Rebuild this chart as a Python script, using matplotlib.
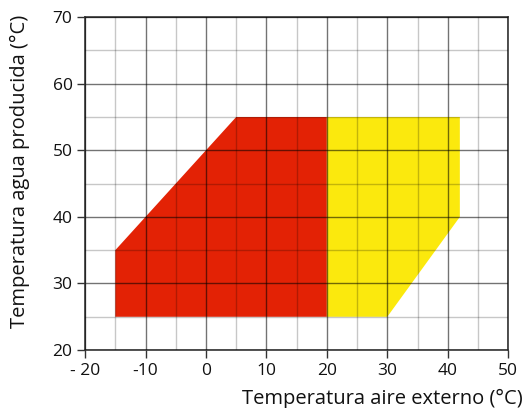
import matplotlib
matplotlib.use("Agg")
import matplotlib.pyplot as plt
from matplotlib.patches import Polygon

plt.rcParams['font.family'] = ['Open Sans', 'DejaVu Sans']

# Data: operating envelopes (air temp °C, water temp °C)
red_x = [-15, -15, 5, 20, 20]
red_y = [25, 35, 55, 55, 25]
yellow_x = [20, 20, 42, 42, 30]
yellow_y = [25, 55, 55, 40, 25]
x_ticks = [-20, -10, 0, 10, 20, 30, 40, 50]
x_labels = ['- 20', '-10', '0', '10', '20', '30', '40', '50']
y_ticks = [20, 30, 40, 50, 60, 70]

fig = plt.figure(figsize=(5.25, 4.08), dpi=100)
ax = fig.add_axes([0.162, 0.142, 0.806, 0.816])

ax.add_patch(Polygon(list(zip(red_x, red_y)), closed=True, facecolor='#E32205', edgecolor='none', zorder=1))
ax.add_patch(Polygon(list(zip(yellow_x, yellow_y)), closed=True, facecolor='#FBE90D', edgecolor='none', zorder=1))

ax.set_xlim(-20, 50)
ax.set_ylim(20, 70)
ax.set_xticks(x_ticks)
ax.set_xticklabels(x_labels)
ax.set_yticks(y_ticks)
ax.set_xticks(range(-15, 50, 10), minor=True)
ax.set_yticks(range(25, 70, 10), minor=True)

ax.grid(which='major', color='#000000', alpha=0.55, linewidth=1.0, zorder=2)
ax.grid(which='minor', color='#000000', alpha=0.22, linewidth=1.0, zorder=2)
ax.set_axisbelow(False)
ax.tick_params(which='minor', length=0)
ax.tick_params(which='major', direction='out', length=6, width=1, color='#333333',
               labelsize=12.5, pad=3, labelcolor='#111111')

for s in ax.spines.values():
    s.set_color('#333333')
    s.set_linewidth(1.2)

ax.set_xlabel('Temperatura aire externo (°C)', fontsize=14.5, ha='right', va='center', color='#111111')
ax.xaxis.set_label_coords(1.035, -0.146)
ax.set_ylabel('Temperatura agua producida (°C)', fontsize=14.5, ha='center', va='center', color='#111111')
ax.yaxis.set_label_coords(-0.155, 0.538)

fig.savefig('out.png', dpi=100)
